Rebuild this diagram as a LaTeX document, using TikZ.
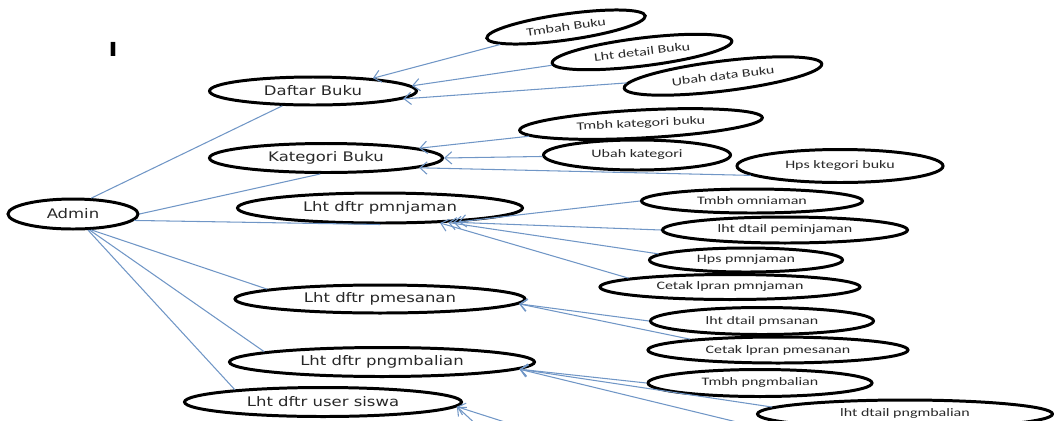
\documentclass[tikz,border=0pt]{standalone}
\usepackage{fontspec}
\setmainfont{DejaVu Sans}[FakeStretch=1.25]
\newfontfamily\subfont{Carlito}[FakeStretch=1.4]
\usetikzlibrary{positioning}
\usetikzlibrary{arrows.meta}
\usetikzlibrary{shapes.geometric}
\definecolor{linkblue}{RGB}{112,150,198}
\definecolor{labelgray}{RGB}{40,40,40}

\begin{document}
\begin{tikzpicture}[x=0.02cm,y=-0.02cm,
                    usecase/.style={ellipse,draw=black,line width=1.7pt,fill=white,
                                    inner sep=0pt,text=labelgray,
                                    font=\fontsize{7.5}{9}\selectfont},
                    subcase/.style={usecase,font=\subfont\fontsize{6.5}{8}\selectfont},
                    assoc/.style={draw=linkblue,line width=0.6pt},
                    incl/.style={assoc,-{Straight Barb[length=4pt,width=7pt]}}]
\useasboundingbox (0,0) rectangle (1054,420);
\clip (0,0) rectangle (1054,420);
%
\node[font=\bfseries\fontsize{11}{11}\selectfont] (cursor) at (113,49) {I};
% the actor and its use cases
\foreach \name/\x/\y/\w/\h/\txt in {admin/73/214/130/30/Admin,
                                   buku/313/91/207/28/Daftar Buku,
                                   kategori/326/158/233/29/Kategori Buku,
                                   pinjam/380/208/285/30/Lht dftr pmnjaman,
                                   pesan/380/299/290/28/Lht dftr pmesanan,
                                   kembali/382/362/305/29/Lht dftr pngmbalian,
                                   siswa/323/402/277/29/Lht dftr user siswa}
{
      \node [usecase,minimum width=\w*0.02cm,minimum height=\h*0.02cm]
            (\name) at (\x,\y) {\txt};
}
% the smaller ones on the right
\foreach \name/\x/\y/\w/\h/\r/\txt in {tbuku/566/27/160/26/8/Tmbah Buku,
                                      dbuku/642/52/181/28/7/Lht detail Buku,
                                      ubuku/723/76/199/30/7/Ubah data Buku,
                                      tkat/641/124/243/28/3/Tmbh kategori buku,
                                      ukat/637/155/187/30/0/Ubah kategori,
                                      hkat/840/166/206/33/0/Hps ktegori buku,
                                      tpinjam/752/201/221/24/0/Tmbh  omniaman,
                                      dpinjam/785/230/245/26/0/lht dtail peminjaman,
                                      hpinjam/746/260/193/24/0/Hps pmnjaman,
                                      cpinjam/730/287/260/25/0/Cetak lpran pmnjaman,
                                      dpesan/762/321/223/27/0/lht dtail pmsanan,
                                      cpesan/778/350/260/26/0/Cetak lpran pmesanan,
                                      tkembali/760/383/224/27/0/Tmbh  pngmbalian,
                                      dkembali/905/414/295/28/0/lht dtail pngmbalian}
{
      \node [subcase,rotate=\r,minimum width=\w*0.02cm,minimum height=\h*0.02cm]
            (\name) at (\x,\y) {\txt};
}
% lines leaving the picture at the bottom
\coordinate (kembalix) at (811,440);
\coordinate (siswax) at (493,440);
\coordinate (sisway) at (561,440);
%
\draw[assoc] (admin.41) -- (buku);
\draw[assoc] (admin.east) -- (kategori.-110);
\draw[assoc] (admin.-6) -- (pinjam.south);
\draw[assoc] (admin.-41) -- (pesan.175);
\draw[assoc] (admin.-44) -- (kembali.175);
\draw[assoc] (admin.-47) -- (siswa.172);
%
\foreach \from/\to in {tbuku/buku.12, dbuku/buku.3, ubuku/buku.-5,
                       tkat/kategori.6, ukat/kategori.east, hkat.186/kategori.-6,
                       tpinjam.west/pinjam.-10, dpinjam.west/pinjam.-11,
                       hpinjam.176/pinjam.-12, cpinjam.175/pinjam.-14,
                       dpesan.west/pesan.-2, cpesan.173/pesan.-2,
                       tkembali.west/kembali.-3, dkembali.177/kembali.-3,
                       kembalix/kembali.-3, siswax/siswa.-2, sisway/siswa.-2}
      \draw[incl] (\from) -- (\to);
\end{tikzpicture}
\end{document}
